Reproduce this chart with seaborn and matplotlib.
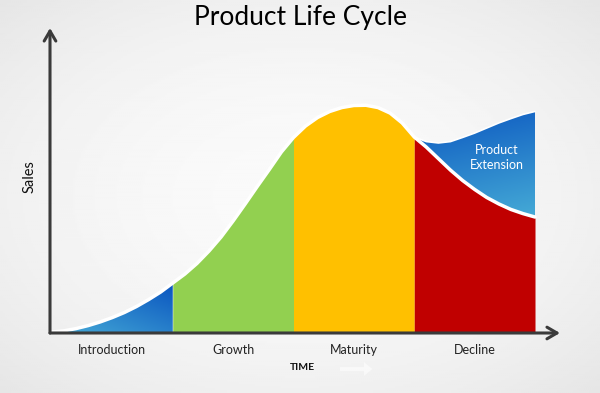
import numpy as np
import pandas as pd
import matplotlib.pyplot as plt
import seaborn as sns
from matplotlib.colors import LinearSegmentedColormap
from matplotlib.patches import FancyArrow

# ==========================
# DATA
# ==========================
stages = ["Introduction", "Growth", "Maturity", "Decline"]
stage_edges = [0, 1, 2, 3, 4]
stage_colors = [None, "#92d050", "#ffc000", "#c00000"]

# time in stage units, sales on a 0-100 scale
time = [0.0, 0.1, 0.2, 0.3, 0.4, 0.5, 0.6, 0.7, 0.8, 0.9,
        1.0, 1.1, 1.2, 1.3, 1.4, 1.5, 1.6, 1.7, 1.8, 1.9,
        2.0, 2.1, 2.2, 2.3, 2.4, 2.5, 2.6, 2.7, 2.8, 2.9,
        3.0, 3.1, 3.2, 3.3, 3.4, 3.5, 3.6, 3.7, 3.8, 3.9, 4.0]
sales = [0.0, 0.5, 1.5, 2.8, 4.4, 6.3, 8.5, 11.1, 14.1, 17.4,
         21.3, 25.2, 29.8, 35.2, 41.3, 48.3, 55.7, 63.3, 70.7, 78.3,
         84.6, 89.6, 93.3, 95.9, 97.6, 98.5, 98.6, 97.6, 95.2, 90.9,
         84.8, 80.4, 75.4, 70.4, 65.9, 62.0, 58.5, 55.7, 53.3, 51.5, 50.0]

ext_time = [3.0, 3.1, 3.2, 3.3, 3.4, 3.5, 3.6, 3.7, 3.8, 3.9, 4.0]
ext_sales = [84.8, 82.8, 82.2, 82.8, 84.6, 86.5, 88.7, 90.9, 92.8, 94.6, 95.9]

df = pd.DataFrame({"time": time, "sales": sales})
ext = pd.DataFrame({"time": ext_time, "sales": ext_sales})

sns.set_theme(style="white")
plt.rcParams["font.family"] = ["Lato", "DejaVu Sans"]

fig = plt.figure(figsize=(6, 3.93), dpi=100)

# background: soft radial grey
bg = fig.add_axes([0, 0, 1, 1], zorder=-1)
gx, gy = np.meshgrid(np.linspace(-1, 1, 300), np.linspace(-1, 1, 200))
r2 = (gx ** 2 + gy ** 2) / 2
bg.imshow(0.98 - 0.08 * r2, cmap="gray", vmin=0, vmax=1, aspect="auto",
          extent=[0, 1, 0, 1])
bg.axis("off")

ax = fig.add_axes([50 / 600, 60 / 393, 510 / 600, 305 / 393])
ax.set_facecolor("none")
ax.set_xlim(-0.0166, 4.207)
ax.set_ylim(-0.435, 132.2)

blue = LinearSegmentedColormap.from_list("blue", ["#45aad6", "#0a55c0"])

# stage areas
for i in range(4):
    part = df[(df["time"] >= stage_edges[i]) & (df["time"] <= stage_edges[i + 1])]
    if stage_colors[i] is None:
        poly = ax.fill_between(part["time"], 0, part["sales"], color="none", lw=0)
        gx2, gy2 = np.meshgrid(np.linspace(0, 1, 100), np.linspace(0, 1, 100))
        im = ax.imshow((gx2 + gy2) / 2, cmap=blue, aspect="auto", origin="lower",
                       extent=[0, 1, 0, part["sales"].max()], zorder=2)
        im.set_clip_path(poly.get_paths()[0], transform=ax.transData)
    else:
        ax.fill_between(part["time"], 0, part["sales"], color=stage_colors[i],
                        lw=0, zorder=2)

# product extension (gradient between decline and extension curve)
dec = df[df["time"] >= 3.0]
poly = ax.fill_between(ext["time"], dec["sales"].values, ext["sales"],
                       color="none", lw=0)
gx3, gy3 = np.meshgrid(np.linspace(0, 1, 100), np.linspace(0, 1, 100))
im = ax.imshow(gy3 * 0.8 - gx3 * 0.2, cmap=blue, aspect="auto", origin="lower",
               extent=[3.0, 4.0, 50, 97], zorder=2)
im.set_clip_path(poly.get_paths()[0], transform=ax.transData)

# white outlines
sns.lineplot(data=df, x="time", y="sales", color="white", lw=2.5, ax=ax,
             zorder=3)
sns.lineplot(data=ext, x="time", y="sales", color="white", lw=1.2, ax=ax,
             zorder=3)

ax.text(3.685, 76, "Product\nExtension", color="white", ha="center",
        va="center", fontsize=9, linespacing=1.3, zorder=4)

# axes with arrows
for s in ax.spines.values():
    s.set_visible(False)
ax.set_xticks([])
ax.set_yticks([])
ax.set_xlabel("")
ax.set_ylabel("")
ax.annotate("", xy=(1, 0), xytext=(0, 0), xycoords="axes fraction",
            arrowprops=dict(arrowstyle="->,head_length=0.6,head_width=0.35",
                            color="#3a3a3a", lw=2.2, shrinkA=0, shrinkB=0))
ax.annotate("", xy=(0, 1), xytext=(0, 0), xycoords="axes fraction",
            arrowprops=dict(arrowstyle="->,head_length=0.6,head_width=0.35",
                            color="#3a3a3a", lw=2.2, shrinkA=0, shrinkB=0))

# stage labels
for i, name in enumerate(stages):
    ax.text(i + 0.5, -7.8, name, ha="center", va="center", fontsize=9,
            color="#222222", clip_on=False)

fig.text(0.5, 1 - 18 / 393, "Product Life Cycle", ha="center", va="center",
         fontsize=19, color="black")
fig.text(30 / 600, 1 - 177 / 393, "Sales", rotation=90, ha="center",
         va="center", fontsize=10.5, color="#111111")
fig.text(302 / 600, 1 - 367 / 393, "TIME", ha="center", va="center",
         fontsize=7.5, fontweight="bold", color="#111111")
fig.patches.append(FancyArrow(
    340 / 600, 1 - 369 / 393, 24 / 600, 0, width=0.01, head_width=0.035,
    head_length=0.014, color="white", alpha=0.55, lw=0,
    transform=fig.transFigure, figure=fig))

fig.savefig("out.png", dpi=100)
